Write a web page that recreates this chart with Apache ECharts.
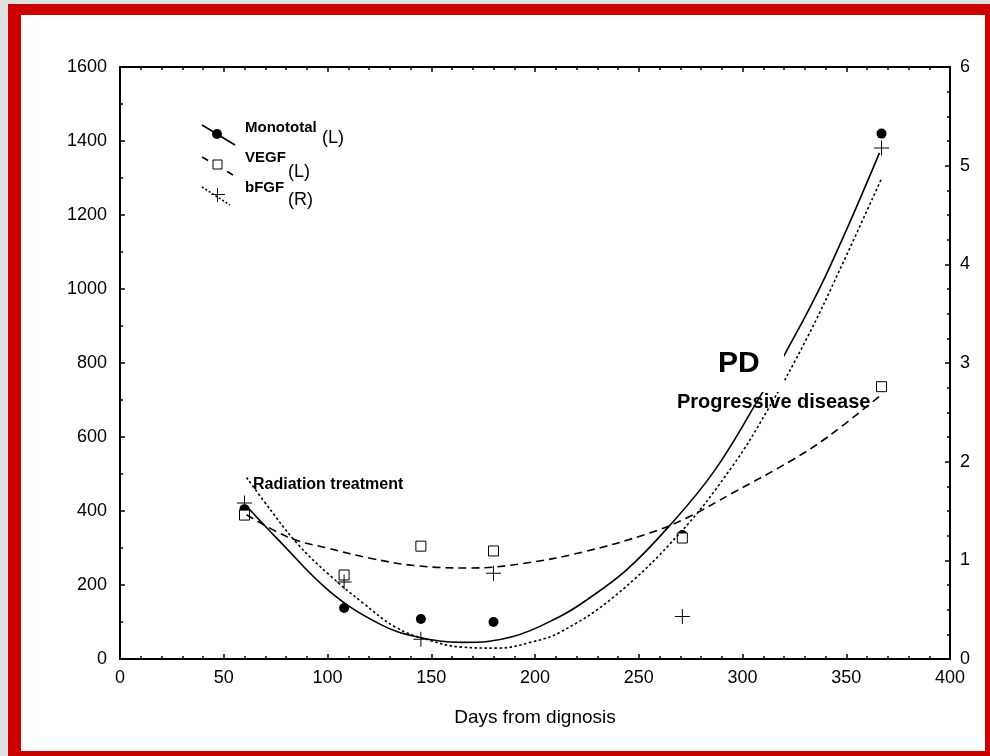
<!DOCTYPE html>
<html>
<head>
<meta charset="utf-8">
<script src="https://cdn.jsdelivr.net/npm/echarts@6/dist/echarts.min.js"></script>
<style>
  html, body { margin: 0; padding: 0; background: #e0e0e0; }
  #frame {
    position: absolute; left: 8px; top: 4px; width: 964px; height: 736px;
    background: #fff; border-style: solid; border-color: #cc0000;
    border-width: 11px 5px 5px 13px;
  }
  #chart { position: absolute; left: 0; top: 0; width: 990px; height: 756px; }
</style>
</head>
<body>
<div id="frame"></div>
<div id="chart"></div>
<script>
// measured points
const visitDays = [60, 108, 145, 180, 271, 367];
const monototal = [405, 138, 108, 100, 335, 1420];
const vegf = [389, 227, 305, 292, 327, 736];
const bfgf = [1.58, 0.78, 0.20, 0.87, 0.43, 5.18];

// fitted curves
const monoFitDays = [61, 77, 101, 125, 143, 165, 189, 212, 225, 244, 264, 286, 308, 321, 340, 366];
const monoFitValues = [413, 318, 183, 95, 60, 45, 60, 115, 160, 240, 355, 505, 705, 830, 1035, 1368];
const vegfFitDays = [61, 82, 100, 120, 143, 169, 194, 223, 255, 273, 295, 324, 341, 366];
const vegfFitValues = [390, 327, 300, 273, 252, 246, 258, 289, 340, 381, 448, 538, 600, 710];
const bfgfFitDays = [61, 69, 85, 101, 117, 133, 149, 165, 182, 198, 212, 238, 270, 295, 312, 331, 347, 367];
const bfgfFitValues = [1.84, 1.61, 1.18, 0.85, 0.57, 0.32, 0.19, 0.12, 0.11, 0.17, 0.27, 0.63, 1.28, 1.95, 2.52, 3.25, 3.95, 4.87];

const fontFam = '"Liberation Sans", Arial, sans-serif';

const zip = (xs, ys) => xs.map((x, i) => [x, ys[i]]);
const plain = (v) => String(v);

let chart = echarts.init(document.getElementById('chart'));

const axisLine = { show: true, onZero: false, lineStyle: { color: '#000', width: 2 } };
const tickStyle = { color: '#000', width: 1.5 };

let option = {
  animation: false,
  backgroundColor: 'transparent',
  textStyle: { fontFamily: fontFam },
  grid: { left: 120, right: 40, top: 67, bottom: 97 },
  xAxis: [
    {
      type: 'value', position: 'bottom', min: 0, max: 400, interval: 50,
      axisLine: axisLine,
      axisTick: { show: true, inside: true, length: 5, lineStyle: tickStyle },
      minorTick: { show: true, splitNumber: 5, length: 3, lineStyle: tickStyle },
      axisLabel: { color: '#000', fontSize: 18, margin: 10, fontFamily: fontFam, formatter: plain },
      splitLine: { show: false },
      name: 'Days from dignosis', nameLocation: 'middle', nameGap: 49,
      nameTextStyle: { color: '#000', fontSize: 19, fontFamily: fontFam }
    },
    {
      type: 'value', position: 'top', min: 0, max: 400, interval: 50,
      axisLine: axisLine,
      axisTick: { show: true, inside: true, length: 5, lineStyle: tickStyle },
      minorTick: { show: true, splitNumber: 5, length: 3, lineStyle: tickStyle },
      axisLabel: { show: false },
      splitLine: { show: false }
    }
  ],
  yAxis: [
    {
      type: 'value', position: 'left', min: 0, max: 1600, interval: 200,
      axisLine: axisLine,
      axisTick: { show: true, inside: true, length: 5, lineStyle: tickStyle },
      minorTick: { show: true, splitNumber: 2, length: 3, lineStyle: tickStyle },
      axisLabel: { color: '#000', fontSize: 18, margin: 13, fontFamily: fontFam, formatter: plain },
      splitLine: { show: false }
    },
    {
      type: 'value', position: 'right', min: 0, max: 6, interval: 1,
      axisLine: axisLine,
      axisTick: { show: true, inside: true, length: 5, lineStyle: tickStyle },
      minorTick: { show: true, splitNumber: 4, length: 3, lineStyle: tickStyle },
      axisLabel: { color: '#000', fontSize: 18, margin: 10, fontFamily: fontFam, formatter: plain },
      splitLine: { show: false }
    }
  ],
  series: [
    {
      name: 'Monototal fit', type: 'line', yAxisIndex: 0, smooth: 0.4,
      symbol: 'none', data: zip(monoFitDays, monoFitValues),
      lineStyle: { color: '#000', width: 1.6 }
    },
    {
      name: 'VEGF fit', type: 'line', yAxisIndex: 0, smooth: 0.4,
      symbol: 'none', data: zip(vegfFitDays, vegfFitValues),
      lineStyle: { color: '#000', width: 1.6, type: [8, 5] }
    },
    {
      name: 'bFGF fit', type: 'line', yAxisIndex: 1, smooth: 0.4,
      symbol: 'none', data: zip(bfgfFitDays, bfgfFitValues),
      lineStyle: { color: '#000', width: 1.6, type: [2.5, 2.5] }
    },
    {
      name: 'Monototal', type: 'scatter', yAxisIndex: 0,
      symbol: 'circle', symbolSize: 10, data: zip(visitDays, monototal),
      itemStyle: { color: '#000', opacity: 1 }
    },
    {
      name: 'VEGF', type: 'scatter', yAxisIndex: 0,
      symbol: 'rect', symbolSize: 10, data: zip(visitDays, vegf),
      itemStyle: { color: '#fff', borderColor: '#000', borderWidth: 1, opacity: 1 }
    },
    {
      name: 'bFGF', type: 'scatter', yAxisIndex: 1,
      symbol: 'path://M0 7L15 7L15 8L0 8Z M7 0L8 0L8 15L7 15Z', symbolSize: 15,
      data: zip(visitDays, bfgf),
      itemStyle: { color: '#000', opacity: 1 }
    }
  ],
  graphic: [
    // legend
    { type: 'line', z: 100, shape: { x1: 202, y1: 125, x2: 235, y2: 145 }, style: { stroke: '#000', lineWidth: 1.6 } },
    { type: 'circle', z: 101, shape: { cx: 217, cy: 134, r: 5 }, style: { fill: '#000' } },
    { type: 'line', z: 100, shape: { x1: 202, y1: 157, x2: 233, y2: 175 }, style: { stroke: '#000', lineWidth: 1.6, lineDash: [7, 22] } },
    { type: 'rect', z: 101, shape: { x: 213, y: 160, width: 9, height: 9 }, style: { fill: '#fff', stroke: '#000', lineWidth: 1 } },
    { type: 'line', z: 100, shape: { x1: 202, y1: 187, x2: 230, y2: 205 }, style: { stroke: '#000', lineWidth: 1.6, lineDash: [2, 2] } },
    { type: 'line', z: 101, shape: { x1: 211, y1: 194.5, x2: 225, y2: 194.5 }, style: { stroke: '#000', lineWidth: 1 } },
    { type: 'line', z: 101, shape: { x1: 217.5, y1: 188, x2: 217.5, y2: 202 }, style: { stroke: '#000', lineWidth: 1 } },
    { type: 'text', z: 101, left: 245, top: 120, style: { text: 'Monototal', font: 'bold 15px ' + fontFam, fill: '#000' } },
    { type: 'text', z: 101, left: 322, top: 129, style: { text: '(L)', font: '18px ' + fontFam, fill: '#000' } },
    { type: 'text', z: 101, left: 245, top: 150, style: { text: 'VEGF', font: 'bold 15px ' + fontFam, fill: '#000' } },
    { type: 'text', z: 101, left: 288, top: 163, style: { text: '(L)', font: '18px ' + fontFam, fill: '#000' } },
    { type: 'text', z: 101, left: 245, top: 180, style: { text: 'bFGF', font: 'bold 15px ' + fontFam, fill: '#000' } },
    { type: 'text', z: 101, left: 288, top: 191, style: { text: '(R)', font: '18px ' + fontFam, fill: '#000' } },
    // annotations
    { type: 'text', z: 101, left: 253, top: 477, style: { text: 'Radiation treatment', font: 'bold 16px ' + fontFam, fill: '#000' } },
    { type: 'rect', z: 100, shape: { x: 712, y: 342, width: 72, height: 50 }, style: { fill: '#fff' } },
    { type: 'text', z: 101, left: 718, top: 349, style: { text: 'PD', font: 'bold 30px ' + fontFam, fill: '#000' } },
    { type: 'text', z: 101, left: 677, top: 392, style: { text: 'Progressive disease', font: 'bold 20px ' + fontFam, fill: '#000' } }
  ]
};

chart.setOption(option);
</script>
</body>
</html>
